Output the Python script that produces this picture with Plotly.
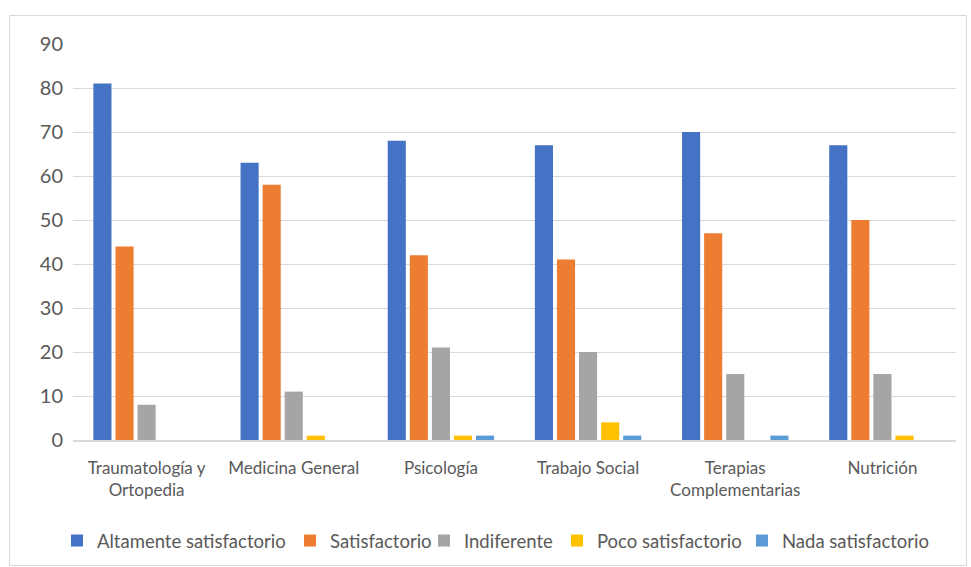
import plotly.graph_objects as go

categories = ["Traumatología y<br>Ortopedia", "Medicina General", "Psicología",
              "Trabajo Social", "Terapias<br>Complementarias", "Nutrición"]

altamente = [81, 63, 68, 67, 70, 67]
satisfactorio = [44, 58, 42, 41, 47, 50]
indiferente = [8, 11, 21, 20, 15, 15]
poco = [0, 1, 1, 4, 0, 1]
nada = [0, 0, 1, 1, 1, 0]

series = [
    ("Altamente satisfactorio", altamente, "#4472C4"),
    ("Satisfactorio", satisfactorio, "#ED7D31"),
    ("Indiferente", indiferente, "#A5A5A5"),
    ("Poco satisfactorio", poco, "#FFC000"),
    ("Nada satisfactorio", nada, "#5B9BD5"),
]

# left edge (pixels) of each legend entry along the bottom row
legend_left_px = [73, 306, 440, 573, 758]

W, H = 971, 567
ml, mr, mt, mb = 73, 15, 44, 127
pw, ph = W - ml - mr, H - mt - mb

def px_x(p):
    return (p - ml) / pw

def px_y(p):
    return (H - mb - p) / ph

fig = go.Figure()
legend_layouts = {}
for i, (name, vals, color) in enumerate(series):
    key = "legend" if i == 0 else f"legend{i + 1}"
    fig.add_trace(go.Bar(x=categories, y=vals, name=name, marker_color=color,
                         marker_line_width=0, legend=key))
    legend_layouts[key] = dict(
        xref="container", yref="container",
        x=(legend_left_px[i] - 16) / W, xanchor="left",
        y=(H - 541) / H, yanchor="middle", orientation="h",
        font=dict(size=18.5, color="#595959"), bgcolor="rgba(0,0,0,0)",
        itemwidth=30,
    )

fig.update_layout(
    width=W, height=H,
    margin=dict(l=ml, r=mr, t=mt, b=mb, autoexpand=False),
    paper_bgcolor="white", plot_bgcolor="white",
    barmode="group", bargap=0.25, bargroupgap=0.18,
    font=dict(family="Lato, Open Sans, sans-serif", color="#595959"),
    showlegend=True,
    shapes=[dict(type="rect", xref="paper", yref="paper",
                 x0=px_x(9.5), x1=px_x(966.5), y0=px_y(565.5), y1=px_y(15.5),
                 line=dict(color="#d9d9d9", width=1), fillcolor="rgba(0,0,0,0)",
                 layer="below")],
    **legend_layouts,
)
fig.update_yaxes(range=[0, 90], dtick=10, showgrid=True, gridcolor="#d9d9d9", gridwidth=1.3,
                 zeroline=False, showline=False, ticks="", ticklen=0, automargin=False,
                 tickfont=dict(size=20, color="#595959"), ticklabelstandoff=9)
fig.update_xaxes(showline=True, linecolor="#d9d9d9", linewidth=1.5, ticks="", automargin=False,
                 tickfont=dict(size=17, color="#595959"), ticklabelstandoff=12)

fig.write_html("out.html")
